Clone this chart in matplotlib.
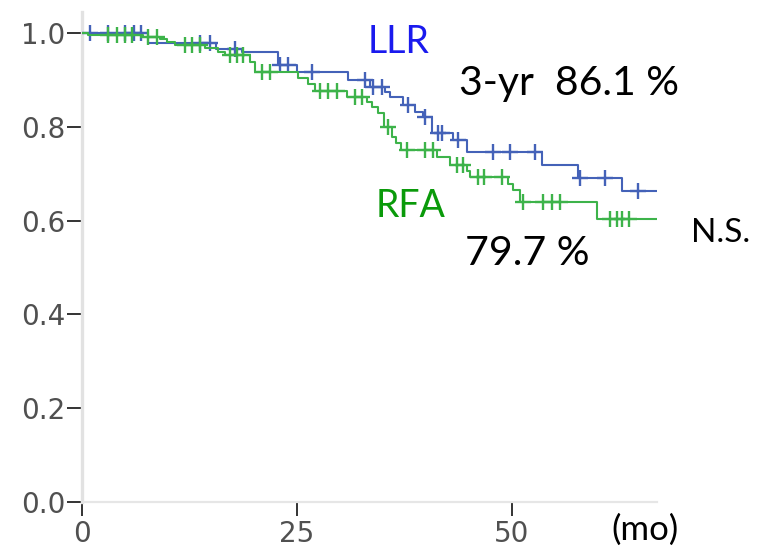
import numpy as np
import matplotlib
matplotlib.use("Agg")
import matplotlib.pyplot as plt

plt.rcParams["font.family"] = ["DejaVu Sans"]

# ---- data (months, survival) ----
follow_up_end = 66.9

llr_times = [7.7, 15.6, 18.6, 22.8, 25.0, 30.9, 33.5, 35.2, 35.8, 37.3, 38.7, 39.7,
             40.7, 43.1, 44.8, 53.5, 57.7, 62.8]
llr_surv = [0.978, 0.965, 0.960, 0.932, 0.917, 0.900, 0.885, 0.874, 0.864, 0.846, 0.832,
            0.821, 0.787, 0.772, 0.746, 0.719, 0.691, 0.663]
llr_censor = [0.9, 3.0, 5.0, 6.0, 6.9, 13.7, 14.9, 17.8, 23.0, 24.0, 26.7, 32.9, 33.8,
              34.9, 37.9, 39.9, 41.4, 41.9, 43.7, 47.8, 49.8, 52.7, 57.9, 60.8, 64.7]

rfa_times = [0.7, 7.1, 9.1, 9.9, 10.8, 14.3, 15.8, 16.6, 19.5, 20.1, 25.1, 26.3, 27.1,
             30.8, 33.1, 33.7, 34.4, 35.1, 36.0, 36.5, 37.1, 41.3, 42.8, 44.8, 45.1,
             49.5, 50.1, 50.9, 59.9]
rfa_surv = [0.996, 0.991, 0.987, 0.981, 0.974, 0.968, 0.959, 0.953, 0.938, 0.917, 0.904,
            0.891, 0.876, 0.864, 0.853, 0.842, 0.829, 0.800, 0.778, 0.765, 0.751, 0.736,
            0.719, 0.706, 0.693, 0.678, 0.665, 0.640, 0.603]
rfa_censor = [3.0, 4.1, 5.0, 5.8, 7.7, 8.7, 12.0, 12.8, 13.7, 17.2, 18.0, 18.7, 20.9,
              21.9, 27.7, 28.6, 29.7, 31.7, 32.6, 35.6, 37.8, 39.9, 40.8, 43.6, 44.3,
              46.0, 46.7, 48.8, 51.3, 53.6, 54.7, 55.6, 61.4, 62.2, 62.8, 63.6]

x_ticks = [0, 25, 50]
y_ticks = [0.0, 0.2, 0.4, 0.6, 0.8, 1.0]
y_ticklabels = ["0.0", "0.2", "0.4", "0.6", "0.8", "1.0"]

LLR_COLOR = "#4462b8"
RFA_COLOR = "#3db34a"

W, H = 760, 548
fig = plt.figure(figsize=(W / 100, H / 100), dpi=100)
ax = fig.add_axes([82 / W, 46 / H, 575 / W, 490 / H])
ax.set_xlim(0, 575 / 8.6)
ax.set_ylim(0, 490 / 469)


def km_curve(ax, times, surv, censor, color, z):
    t = np.concatenate([[0.0], times, [follow_up_end]])
    s = np.concatenate([[1.0], surv, [surv[-1]]])
    ax.step(t, s, where="post", color=color, lw=1.5, zorder=z)
    c = np.asarray(censor)
    idx = np.searchsorted(t, c, side="right") - 1
    ax.plot(c, s[idx], linestyle="none", marker="+", markersize=11,
            markeredgewidth=1.7, color=color, zorder=z)


km_curve(ax, llr_times, llr_surv, llr_censor, LLR_COLOR, 3)
km_curve(ax, rfa_times, rfa_surv, rfa_censor, RFA_COLOR, 4)

for side in ["top", "right"]:
    ax.spines[side].set_visible(False)
ax.spines["left"].set_color("#e2e2e2")
ax.spines["left"].set_linewidth(2.4)
ax.spines["bottom"].set_color("#e6e6e6")
ax.spines["bottom"].set_linewidth(1.6)

ax.set_xticks(x_ticks)
ax.set_xticklabels([str(v) for v in x_ticks], fontfamily="DejaVu Sans")
ax.set_yticks(y_ticks)
ax.set_yticklabels(y_ticklabels, fontfamily="DejaVu Sans")
ax.tick_params(axis="y", direction="out", length=11, width=1.4, color="#333333",
               labelsize=20, labelcolor="#505050", pad=1)
ax.tick_params(axis="x", direction="out", length=10, width=1.4, color="#333333",
               labelsize=20, labelcolor="#505050", pad=3)


def ftext(px, py, s, size, color="black"):
    fig.text(px / W, 1 - py / H, s, fontsize=size, color=color,
             family=["Lato", "DejaVu Sans"], ha="left", va="baseline")


ftext(368, 53, "LLR", 27, "#1a1aee")
ftext(459, 95, "3-yr  86.1 %", 29.5)
ftext(376, 217, "RFA", 27, "#0a9a0a")
ftext(465, 265, "79.7 %", 29.5)
ftext(691, 242, "N.S.", 24)
ftext(611, 540, "(mo)", 25)

fig.savefig("out.png", dpi=100)
